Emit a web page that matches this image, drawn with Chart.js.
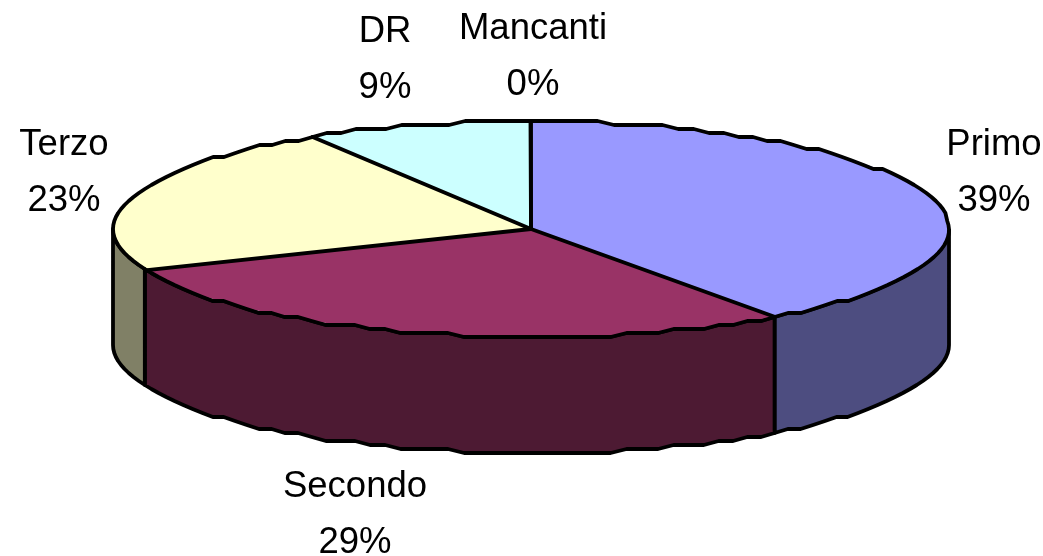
<!DOCTYPE html>
<html>
<head>
<meta charset="utf-8">
<title>Torta</title>
<script src="https://cdn.jsdelivr.net/npm/chart.js@4/dist/chart.umd.min.js"></script>
<style>
  html, body { margin: 0; padding: 0; background: #fff; }
  canvas { display: block; }
</style>
</head>
<body>
<canvas id="pie3d" width="1043" height="556"></canvas>
<script>
const categories = ["Primo", "Secondo", "Terzo", "DR", "Mancanti"];
const values = [40.1, 28.65, 22.5, 8.73, 0.02];
const percentLabels = ["39%", "29%", "23%", "9%", "0%"];
const topColors = ["#9999FF", "#993366", "#FFFFCC", "#CCFFFF", "#660066"];
const wallColors = ["#4D4D80", "#4D1A33", "#808066", "#668080", "#330033"];

// where each label sits: centre x, baseline of name and of percent
const labelSpots = [
  { x: 994, y1: 155, y2: 211 },
  { x: 355, y1: 497, y2: 553 },
  { x: 64, y1: 155, y2: 211 },
  { x: 385, y1: 42, y2: 98 },
  { x: 533, y1: 39, y2: 95 },
];

const squash = 418 / 108; // ellipse width against height
const depth = 116;
const lineW = 3.8;
const stepY = 4;

// the original outline is stair-stepped, keep that by snapping y
function edgePoint(arc, t, dy) {
  const r = arc.outerRadius;
  const x = arc.x + r * squash * Math.cos(t);
  const off = r * Math.sin(t);
  const snapped = r - Math.round((r - Math.abs(off)) / stepY) * stepY;
  return [x, arc.y + Math.sign(off) * Math.max(snapped, 0) + dy];
}

function edgePoints(arc, a, b, dy) {
  const pts = [];
  const n = Math.max(2, Math.ceil((b - a) / 0.04));
  for (let i = 0; i <= n; i++) {
    pts.push(edgePoint(arc, a + ((b - a) * i) / n, dy));
  }
  return pts;
}

function strokeLine(ctx, pts) {
  ctx.beginPath();
  pts.forEach((p, i) => (i ? ctx.lineTo(p[0], p[1]) : ctx.moveTo(p[0], p[1])));
  ctx.stroke();
}

const pie3dPlugin = {
  id: "pie3d",
  beforeDatasetsDraw(chart) {
    const ctx = chart.ctx;
    const arcs = chart.getDatasetMeta(0).data;
    ctx.save();
    ctx.lineWidth = lineW;
    ctx.lineJoin = "round";
    ctx.strokeStyle = "#000";
    // side wall, only the front half of the ellipse shows
    arcs.forEach((arc, i) => {
      const a = Math.max(arc.startAngle, 0);
      const b = Math.min(arc.endAngle, Math.PI);
      if (b <= a) return;
      const top = edgePoints(arc, a, b, 0);
      const bottom = edgePoints(arc, a, b, depth).reverse();
      const outline = top.concat(bottom);
      outline.push(top[0]);
      ctx.fillStyle = wallColors[i];
      ctx.beginPath();
      outline.forEach((p, k) => (k ? ctx.lineTo(p[0], p[1]) : ctx.moveTo(p[0], p[1])));
      ctx.fill();
      ctx.stroke();
    });
    ctx.restore();

    // library draws the slices, flattened
    const c = arcs[0];
    ctx.save();
    ctx.translate(c.x, c.y);
    ctx.scale(squash, 1);
    ctx.translate(-c.x, -c.y);
  },
  afterDatasetsDraw(chart) {
    const ctx = chart.ctx;
    const arcs = chart.getDatasetMeta(0).data;
    ctx.restore();

    ctx.save();
    ctx.lineWidth = lineW;
    ctx.lineJoin = "round";
    ctx.lineCap = "round";
    ctx.strokeStyle = "#000";
    arcs.forEach((arc) => {
      strokeLine(ctx, edgePoints(arc, arc.startAngle, arc.endAngle, 0));
      strokeLine(ctx, [
        [arc.x, arc.y],
        [arc.x + arc.outerRadius * squash * Math.cos(arc.startAngle), arc.y + arc.outerRadius * Math.sin(arc.startAngle)],
      ]);
    });

    // labels
    ctx.fillStyle = "#000";
    ctx.font = '36.5px "Liberation Sans", Arial, sans-serif';
    ctx.textAlign = "center";
    ctx.textBaseline = "alphabetic";
    categories.forEach((name, i) => {
      const spot = labelSpots[i];
      ctx.fillText(name, spot.x, spot.y1);
      ctx.fillText(percentLabels[i], spot.x, spot.y2);
    });
    ctx.restore();
  },
};

new Chart(document.getElementById("pie3d").getContext("2d"), {
  type: "pie",
  data: {
    labels: categories,
    datasets: [{ data: values, backgroundColor: topColors, borderWidth: 0 }],
  },
  options: {
    responsive: false,
    animation: false,
    layout: { padding: { left: 423, right: 404, top: 121, bottom: 219 } },
    plugins: { legend: { display: false }, tooltip: { enabled: false } },
  },
  plugins: [pie3dPlugin],
});
</script>
</body>
</html>
